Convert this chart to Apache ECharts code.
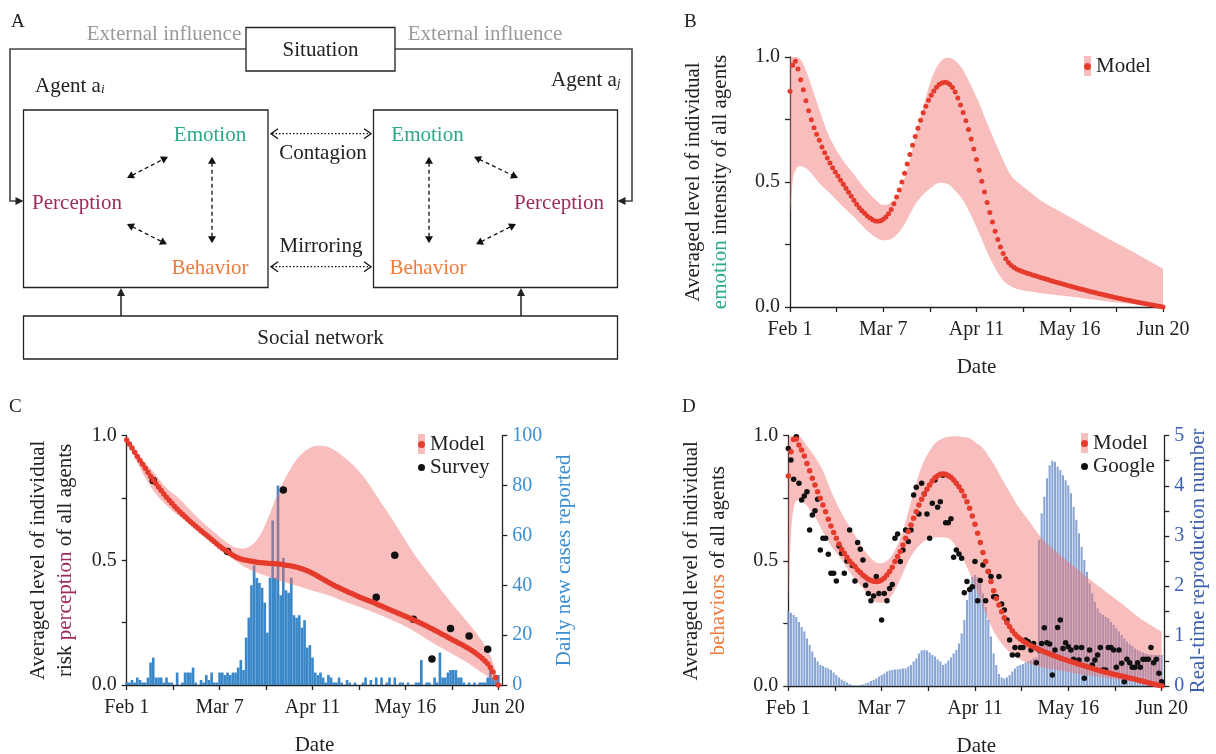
<!DOCTYPE html>
<html>
<head>
<meta charset="utf-8">
<script src="https://cdn.jsdelivr.net/npm/echarts@6/dist/echarts.min.js"></script>
<style>
  html, body { margin: 0; padding: 0; background: #fff; }
  #fig { width: 1216px; height: 754px; }
</style>
</head>
<body>
<div id="fig"></div>
<script>
// ---- data (day index 0 = Feb 1, 140 = Jun 20) ----
const dateLabels = ['Feb 1', 'Mar 7', 'Apr 11', 'May 16', 'Jun 20'];
const labelDays = [0, 35, 70, 105, 140];
const tickDays = [0, 17.5, 35, 52.5, 70, 87.5, 105, 122.5, 140];
const levelLabels = [0, 0.5, 1];

// B: emotion model, one value per day
const modelB = [
  0.863,0.967,0.983,0.952,0.909,0.869,0.825,0.785,0.749,0.717,
  0.691,0.667,0.640,0.617,0.596,0.576,0.557,0.540,0.524,0.507,
  0.491,0.475,0.459,0.443,0.427,0.411,0.397,0.385,0.375,0.364,
  0.356,0.349,0.344,0.343,0.345,0.351,0.360,0.373,0.390,0.413,
  0.440,0.468,0.500,0.535,0.572,0.610,0.647,0.682,0.715,0.747,
  0.777,0.803,0.827,0.847,0.864,0.879,0.890,0.896,0.899,0.897,
  0.890,0.878,0.860,0.836,0.808,0.778,0.745,0.710,0.672,0.632,
  0.590,0.547,0.503,0.460,0.418,0.378,0.340,0.303,0.270,0.240,
  0.214,0.193,0.178,0.167,0.159,0.152,0.147,0.143,0.139,0.135,
  0.132,0.128,0.125,0.122,0.118,0.115,0.112,0.109,0.105,0.102,
  0.099,0.096,0.093,0.090,0.087,0.084,0.081,0.078,0.075,0.072,
  0.070,0.067,0.064,0.061,0.059,0.056,0.053,0.051,0.048,0.046,
  0.043,0.041,0.038,0.036,0.034,0.031,0.029,0.027,0.025,0.022,
  0.020,0.018,0.016,0.014,0.012,0.010,0.008,0.006,0.004,0.002,
  0.000
];
const bandDaysB = [0,1,2,4,6,8,11,14,17,20,24,28,32,35,38,41,44,47,50,53,56,59,62,65,68,71,74,77,80,83,86,90,95,100,110,120,130,140];
const upperB = [1.0,1.0,1.0,0.99,0.945,0.885,0.79,0.70,0.635,0.585,0.53,0.475,0.43,0.408,0.418,0.455,0.55,0.675,0.80,0.91,0.975,0.998,0.985,0.947,0.885,0.815,0.735,0.66,0.587,0.525,0.495,0.46,0.42,0.39,0.33,0.27,0.213,0.153];
const lowerB = [0.36,0.50,0.545,0.563,0.555,0.535,0.495,0.465,0.433,0.40,0.36,0.315,0.28,0.267,0.272,0.30,0.35,0.41,0.45,0.478,0.496,0.493,0.465,0.427,0.365,0.295,0.22,0.155,0.107,0.082,0.07,0.062,0.054,0.048,0.035,0.021,0.011,0.0];

// C: risk perception model, survey, daily new cases
const modelC = [
  .983,.967,.951,.934,.917,.901,.885,.869,.853,.837,
  .822,.808,.794,.780,.766,.753,.741,.729,.717,.706,
  .695,.685,.675,.665,.655,.646,.637,.628,.619,.610,
  .602,.593,.584,.575,.566,.557,.549,.542,.535,.527,
  .520,.514,.509,.505,.502,.500,.498,.496,.494,.492,
  .491,.490,.489,.488,.487,.487,.486,.485,.484,.482,
  .480,.479,.477,.475,.472,.469,.466,.462,.458,.453,
  .448,.442,.436,.430,.424,.418,.412,.406,.400,.395,
  .390,.385,.380,.375,.370,.366,.361,.356,.351,.347,
  .343,.339,.335,.331,.326,.321,.317,.312,.307,.303,
  .298,.294,.289,.285,.280,.276,.271,.267,.262,.257,
  .252,.247,.242,.237,.231,.226,.220,.215,.209,.203,
  .198,.192,.186,.180,.174,.168,.163,.157,.151,.145,
  .138,.131,.123,.115,.106,.096,.085,.070,.052,.030,
  0
];
const bandDaysC = [0,5,10,15,20,25,30,35,40,43,45,48,51,54,57,60,64,68,72,76,80,85,90,95,100,105,110,115,120,125,129,133,136,138,140];
const upperC = [.983,.915,.855,.79,.745,.69,.64,.595,.556,.548,.55,.57,.615,.69,.77,.835,.905,.945,.96,.955,.93,.885,.825,.745,.665,.58,.50,.43,.36,.295,.245,.19,.14,.09,.01];
const lowerC = [.983,.87,.78,.72,.675,.635,.59,.545,.505,.483,.47,.455,.443,.432,.42,.41,.398,.385,.372,.36,.343,.323,.304,.283,.26,.235,.205,.17,.14,.11,.085,.055,.035,.018,0];
const surveyDays = [10, 38, 59, 94, 101, 108, 115, 122, 129, 136];
const surveyVals = [0.82, 0.535, 0.782, 0.352, 0.52, 0.264, 0.104, 0.227, 0.197, 0.143];
const newCases = [
  1,1,2,1,3,2,1,1,3,9,
  11,3,3,3,1,3,1,1,0,5,
  0,1,5,5,5,7,1,0,2,1,
  4,2,5,1,1,5,5,4,5,4,
  5,5,7,10,6,19,27,40,48,43,
  41,39,33,21,43,66,43,80,36,51,
  38,37,43,28,27,28,23,26,15,16,
  11,5,4,5,3,1,4,3,1,1,
  3,1,0,2,1,0,1,0,0,1,
  3,0,2,0,3,0,3,0,1,3,
  0,3,0,1,1,0,1,0,0,1,
  1,10,0,1,1,0,3,1,13,3,
  3,5,6,6,6,3,3,1,0,1,
  0,1,0,1,1,1,3,8,3,4,
  4
];

// D: behaviour model, Google mobility, real-time reproduction number
const modelD = [
  .839,.936,.985,.987,.963,.943,.919,.889,.860,.830,
  .803,.776,.750,.723,.696,.666,.639,.613,.590,.567,
  .546,.530,.514,.499,.487,.477,.463,.453,.442,.434,
  .426,.421,.418,.417,.418,.423,.431,.443,.457,.474,
  .497,.517,.537,.563,.590,.617,.643,.670,.696,.723,
  .746,.767,.786,.803,.819,.832,.840,.846,.847,.846,
  .840,.834,.823,.810,.796,.780,.759,.736,.710,.679,
  .646,.610,.573,.533,.497,.457,.417,.381,.350,.324,
  .297,.273,.253,.237,.221,.208,.197,.188,.180,.173,
  .166,.161,.156,.151,.146,.141,.137,.133,.128,.124,
  .120,.116,.112,.108,.105,.101,.098,.094,.091,.087,
  .084,.081,.077,.074,.071,.067,.064,.061,.058,.055,
  .053,.050,.047,.045,.042,.040,.037,.035,.032,.030,
  .027,.024,.021,.019,.016,.013,.010,.008,.005,.003,
  0
];
const bandDaysD = [0,1,2,4,5,7,10,13,16,20,24,28,32,34,36,38,40,43,46,50,55,58,60,63,65,68,70,73,75,78,80,83,86,90,95,100,107,115,120,125,132,140];
const upperD = [.99,1.0,1.0,1.0,.99,.96,.916,.86,.78,.69,.62,.55,.50,.49,.493,.51,.543,.62,.735,.876,.969,.99,.996,.998,.996,.99,.975,.95,.92,.87,.83,.775,.72,.663,.59,.54,.477,.41,.37,.33,.27,.217];
const lowerD = [.32,.60,.71,.743,.74,.72,.675,.615,.56,.503,.44,.39,.342,.333,.335,.35,.383,.45,.518,.57,.594,.593,.59,.555,.517,.45,.397,.32,.264,.2,.17,.135,.112,.091,.075,.066,.052,.039,.031,.024,.015,0];
const google = [
  .949,.903,.826,.996,.810,.743,.759,.776,.623,.683,
  .700,.746,.543,.590,.590,.526,.450,.450,.419,.559,
  .530,.450,.499,.623,.481,.419,.573,.546,.503,.403,
  .370,.341,.360,.437,.370,.264,.370,.341,.390,.406,
  .590,.607,.497,.543,.623,.577,.623,.763,.794,.687,
  .810,.767,.687,.590,.730,.823,.714,.736,.842,.652,
  .652,.668,.514,.543,.527,.510,.373,.417,.386,.397,
  .497,.341,.421,.483,.341,.457,.437,.357,.357,.437,
  .328,.304,.264,.184,.124,.154,.124,.154,.154,.184,
  .177,.144,.170,.093,.144,.170,.233,.173,.168,.044,
  .144,.234,.264,.150,.173,.157,.144,.107,.154,.104,
  .154,.031,.107,.144,.084,.104,.124,.154,.064,.064,
  .154,.154,.144,.075,.144,.091,.017,.107,.093,.075,
  .075,.093,.075,.107,.107,.107,.154,.093,.107,.051,
  .017
];
const rt = [
  1.5,1.46,1.42,1.38,1.28,1.18,1.09,0.95,0.82,0.69,
  0.57,0.49,0.42,0.40,0.37,0.35,0.32,0.27,0.22,0.17,
  0.13,0.10,0.07,0.04,0.02,0.01,0.01,0.02,0.03,0.05,
  0.07,0.10,0.12,0.15,0.19,0.22,0.25,0.29,0.31,0.32,
  0.33,0.33,0.34,0.35,0.35,0.39,0.42,0.49,0.55,0.65,
  0.71,0.72,0.71,0.67,0.62,0.59,0.53,0.49,0.42,0.45,
  0.51,0.57,0.65,0.72,0.85,1.05,1.32,1.72,1.98,2.18,
  2.22,2.18,2.05,1.85,1.58,1.32,0.99,0.65,0.42,0.24,
  0.17,0.15,0.17,0.22,0.29,0.35,0.40,0.42,0.44,0.47,
  0.49,0.52,0.55,0.57,2.92,3.45,3.78,4.15,4.41,4.50,
  4.48,4.38,4.31,4.21,4.11,4.01,3.85,3.58,3.32,3.05,
  2.78,2.52,2.28,2.05,1.85,1.68,1.55,1.46,1.42,1.38,
  1.35,1.28,1.22,1.15,1.09,1.02,0.95,0.89,0.84,0.80,
  0.75,0.72,0.69,0.67,0.65,0.63,0.62,0.62,0.62,0.62,
  0.62
];

// ---- styles ----
const FONT = '"Liberation Serif", "Times New Roman", serif';
const INK = '#222';
const RED = '#e53b2c';
const BAND = 'rgba(240,110,108,0.45)';
const BAND_KEY = '#f8bebd';
const TEAL = '#2ba88a';
const MAROON = '#9c2b5d';
const ORANGE = '#f07a3a';
const BLUE_C = '#3a88c8';
const BLUE_D = '#3d5fae';

const daily = ys => ys.map((y, i) => [i, y]);
const pairs = (xs, ys) => xs.map((x, i) => [x, ys[i]]);

// monotone cubic segments through pixel points (x increasing)
function monoSegments(p) {
  const n = p.length, s = [], m = [];
  for (let i = 0; i < n - 1; i++) s[i] = (p[i + 1][1] - p[i][1]) / (p[i + 1][0] - p[i][0]);
  m[0] = s[0]; m[n - 1] = s[n - 2];
  for (let i = 1; i < n - 1; i++) m[i] = s[i - 1] * s[i] <= 0 ? 0 : (s[i - 1] + s[i]) / 2;
  for (let i = 0; i < n - 1; i++) {
    if (s[i] === 0) { m[i] = 0; m[i + 1] = 0; continue; }
    const a = m[i] / s[i], b = m[i + 1] / s[i], h = a * a + b * b;
    if (h > 9) { const t = 3 / Math.sqrt(h); m[i] = t * a * s[i]; m[i + 1] = t * b * s[i]; }
  }
  const seg = [];
  for (let i = 0; i < n - 1; i++) {
    const dx = (p[i + 1][0] - p[i][0]) / 3;
    seg.push([p[i], [p[i][0] + dx, p[i][1] + m[i] * dx], [p[i + 1][0] - dx, p[i + 1][1] - m[i + 1] * dx], p[i + 1]]);
  }
  return seg;
}
function bandPath(up, lo) {
  const f = q => q[0].toFixed(2) + ' ' + q[1].toFixed(2);
  let d = 'M' + f(up[0]);
  monoSegments(up).forEach(s => { d += 'C' + f(s[1]) + ' ' + f(s[2]) + ' ' + f(s[3]); });
  d += 'L' + f(lo[lo.length - 1]);
  monoSegments(lo).reverse().forEach(s => { d += 'C' + f(s[2]) + ' ' + f(s[1]) + ' ' + f(s[0]); });
  return d + 'Z';
}

function bandSeries(xi, yi, days, upper, lower) {
  return {
    type: 'custom', xAxisIndex: xi, yAxisIndex: yi, data: [[0, 0]], z: 2, silent: true,
    renderItem: (params, api) => {
      const up = days.map((d, i) => api.coord([d, upper[i]]));
      const lo = days.map((d, i) => api.coord([d, lower[i]]));
      return { type: 'path', shape: { pathData: bandPath(up, lo) }, style: { fill: BAND } };
    }
  };
}

function dateAxis(gridIndex, max) {
  return {
    type: 'value', gridIndex, min: 0, max, interval: 17.5,
    name: 'Date', nameLocation: 'middle', nameGap: 50,
    nameTextStyle: { fontSize: 21, color: INK, fontFamily: FONT },
    axisLine: { lineStyle: { color: INK, width: 1.3 } },
    axisTick: { show: true, length: 5, customValues: tickDays, lineStyle: { color: INK, width: 1.3 } },
    axisLabel: {
      customValues: labelDays, fontSize: 20, color: INK, fontFamily: FONT, margin: 13,
      formatter: v => { const k = labelDays.indexOf(v); return k >= 0 ? dateLabels[k] : ''; }
    },
    splitLine: { show: false }
  };
}

function levelAxis(gridIndex, name, hlColor, gap) {
  return {
    type: 'value', gridIndex, min: 0, max: 1, interval: 0.25, position: 'left',
    name, nameLocation: 'middle', nameRotate: 90, nameGap: gap,
    nameTextStyle: {
      fontSize: 21, color: INK, fontFamily: FONT, lineHeight: 27,
      rich: { hl: { color: hlColor, fontSize: 21, fontFamily: FONT, lineHeight: 27 } }
    },
    axisLine: { show: true, lineStyle: { color: INK, width: 1.3 } },
    axisTick: { show: true, length: 5, lineStyle: { color: INK, width: 1.3 } },
    axisLabel: { customValues: levelLabels, formatter: v => v.toFixed(1), fontSize: 20, color: INK, fontFamily: FONT, margin: 10 },
    splitLine: { show: false }
  };
}

function rightAxis(gridIndex, max, interval, labels, name, color, gap) {
  return {
    type: 'value', gridIndex, min: 0, max, interval, position: 'right',
    name, nameLocation: 'middle', nameRotate: 90, nameGap: gap,
    nameTextStyle: { fontSize: 21, color, fontFamily: FONT },
    axisLine: { show: true, lineStyle: { color: INK, width: 1.3 } },
    axisTick: { show: true, length: 5, lineStyle: { color: INK, width: 1.3 } },
    axisLabel: { customValues: labels, fontSize: 20, color, fontFamily: FONT, margin: 10 },
    splitLine: { show: false }
  };
}

function dots(name, xi, yi, data, size, color, z) {
  return { type: 'scatter', name, xAxisIndex: xi, yAxisIndex: yi, data, symbol: 'circle',
           symbolSize: size, itemStyle: { color, opacity: 1 }, z, silent: true };
}

// ---- panel A diagram helpers ----
function txt(x, y, text, color, size, align) {
  return { type: 'text', x, y, style: { text, fill: color, fontSize: size || 21, fontFamily: FONT,
    align: align || 'center', verticalAlign: 'middle', textAlign: align || 'center', textVerticalAlign: 'middle' } };
}
function box(x, y, w, h) {
  return { type: 'rect', shape: { x, y, width: w, height: h }, style: { fill: '#fff', stroke: INK, lineWidth: 1.3 } };
}
function head(x, y, ang, len, hw, open, color) {
  const bx = x - len * Math.cos(ang), by = y - len * Math.sin(ang);
  const p1 = [bx + hw * Math.sin(ang), by - hw * Math.cos(ang)];
  const p2 = [bx - hw * Math.sin(ang), by + hw * Math.cos(ang)];
  if (open) return { type: 'polyline', shape: { points: [p1, [x, y], p2] }, style: { stroke: color, fill: null, lineWidth: 1.3 } };
  return { type: 'polygon', shape: { points: [[x, y], p1, p2] }, style: { fill: color } };
}
function dArrow(x1, y1, x2, y2, dash, open) {
  const a = Math.atan2(y2 - y1, x2 - x1);
  const s = open ? 1 : 6;
  return [
    { type: 'line', shape: { x1: x1 + s * Math.cos(a), y1: y1 + s * Math.sin(a), x2: x2 - s * Math.cos(a), y2: y2 - s * Math.sin(a) },
      style: { stroke: '#111', lineWidth: 1.3, lineDash: dash } },
    head(x2, y2, a, 7, open ? 5 : 4, open, '#111'),
    head(x1, y1, a + Math.PI, 7, open ? 5 : 4, open, '#111')
  ];
}
function keyRect(x, y) {
  return { type: 'rect', shape: { x, y, width: 7, height: 20 }, style: { fill: BAND_KEY }, z: 0 };
}

const diagram = [
  txt(11, 22, 'A', INK, 19, 'left'),
  { type: 'polyline', shape: { points: [[246, 49], [10, 49], [10, 201], [17, 201]] }, style: { stroke: '#444', lineWidth: 1.6, fill: null } },
  head(23.5, 201, 0, 8, 4, false, '#222'),
  { type: 'polyline', shape: { points: [[395, 49], [632, 49], [632, 201], [625, 201]] }, style: { stroke: '#444', lineWidth: 1.6, fill: null } },
  head(617.5, 201, Math.PI, 8, 4, false, '#222'),
  txt(164, 34, 'External influence', '#9a9a9a'),
  txt(485, 34, 'External influence', '#9a9a9a'),
  box(246, 27.5, 149, 43.5),
  txt(320.5, 50, 'Situation', INK),
  txt(35, 86, 'Agent a', INK, 21, 'left'),
  { type: 'text', x: 101, y: 90, style: { text: 'i', fill: INK, fontSize: 13, fontStyle: 'italic', fontFamily: FONT, align: 'left', verticalAlign: 'middle' } },
  txt(551, 80, 'Agent a', INK, 21, 'left'),
  { type: 'text', x: 617, y: 84, style: { text: 'j', fill: INK, fontSize: 13, fontStyle: 'italic', fontFamily: FONT, align: 'left', verticalAlign: 'middle' } },
  box(23.5, 110, 244.5, 177.5),
  box(373.5, 110, 244, 177.5),
  box(23.5, 316, 594, 43),
  txt(320.5, 338, 'Social network', INK),
  { type: 'line', shape: { x1: 121, y1: 316, x2: 121, y2: 295 }, style: { stroke: '#222', lineWidth: 1.5 } },
  head(121, 288, -Math.PI / 2, 8, 4, false, '#222'),
  { type: 'line', shape: { x1: 521, y1: 316, x2: 521, y2: 295 }, style: { stroke: '#222', lineWidth: 1.5 } },
  head(521, 288, -Math.PI / 2, 8, 4, false, '#222'),
  ...dArrow(271, 133.7, 371, 133.7, [1.5, 2], true),
  ...dArrow(271, 266.7, 371, 266.7, [1.5, 2], true),
  txt(323, 153, 'Contagion', INK),
  txt(321, 246, 'Mirroring', INK),
  txt(210, 135, 'Emotion', TEAL),
  txt(77, 203, 'Perception', MAROON),
  txt(210, 268, 'Behavior', ORANGE),
  txt(427.5, 135, 'Emotion', TEAL),
  txt(559, 203, 'Perception', MAROON),
  txt(428, 268, 'Behavior', ORANGE),
  ...dArrow(127, 178, 168, 156.7, [4, 3], false),
  ...dArrow(212, 156.7, 212, 243.3, [4, 3], false),
  ...dArrow(127, 224, 167, 244.3, [4, 3], false),
  ...dArrow(429, 156.7, 429, 243.3, [4, 3], false),
  ...dArrow(474, 156.7, 518, 178, [4, 3], false),
  ...dArrow(476, 244.3, 516, 224, [4, 3], false),
  txt(684, 22, 'B', INK, 19, 'left'),
  txt(9, 407, 'C', INK, 19, 'left'),
  txt(682, 407, 'D', INK, 19, 'left'),
  // pink key swatches behind the legend "Model" dots
  keyRect(1084, 56),
  keyRect(418, 434),
  keyRect(1081, 433)
];

const legendText = { fontSize: 21, color: INK, fontFamily: FONT };
const legendBase = { orient: 'vertical', itemWidth: 7, itemHeight: 20, itemGap: 2, selectedMode: false,
                     textStyle: legendText, padding: 0, icon: 'circle' };
const chart = echarts.init(document.getElementById('fig'), null, { renderer: 'canvas' });

const option = {
  animation: false,
  backgroundColor: '#fff',
  textStyle: { fontFamily: FONT },
  grid: [
    { left: 790, top: 57, width: 373, height: 250, outerBoundsMode: 'none' },
    { left: 126.7, top: 435.7, width: 375.6, height: 249.3, outerBoundsMode: 'none' },
    { left: 788.3, top: 435.7, width: 376, height: 250.3, outerBoundsMode: 'none' }
  ],
  xAxis: [dateAxis(0, 140), dateAxis(1, 141.5), dateAxis(2, 141)],
  yAxis: [
    levelAxis(0, 'Averaged level of individual\n{hl|emotion} intensity of all agents', TEAL, 56),
    levelAxis(1, 'Averaged level of individual\nrisk {hl|perception} of all agents', MAROON, 48),
    rightAxis(1, 100, 20, [0, 20, 40, 60, 80, 100], 'Daily new cases reported', '#3d8fd0', 52),
    levelAxis(2, 'Averaged level of individual\n{hl|behaviors} of all agents', ORANGE, 56),
    rightAxis(2, 5, 0.5, [0, 1, 2, 3, 4, 5], 'Real-time reproduction number', BLUE_D, 22)
  ],
  legend: [
    Object.assign({}, legendBase, { data: ['Model'], left: 1084, top: 56 }),
    Object.assign({}, legendBase, { data: ['Model', 'Survey'], left: 418, top: 434 }),
    Object.assign({}, legendBase, { data: ['Model', 'Google'], left: 1081, top: 433 })
  ],
  graphic: diagram,
  series: [
    // B
    bandSeries(0, 0, bandDaysB, upperB, lowerB),
    dots('Model', 0, 0, daily(modelB), 5, RED, 5),
    // C
    { type: 'bar', name: 'cases', xAxisIndex: 1, yAxisIndex: 2, data: daily(newCases), barWidth: 2.65,
      itemStyle: { color: BLUE_C }, z: 1, silent: true },
    bandSeries(1, 1, bandDaysC, upperC, lowerC),
    dots('Survey', 1, 1, pairs(surveyDays, surveyVals), 7.5, '#111', 3),
    dots('Model', 1, 1, daily(modelC), 5.5, RED, 5),
    // D
    { type: 'bar', name: 'Rt', xAxisIndex: 2, yAxisIndex: 4, data: daily(rt), barWidth: 2.1,
      itemStyle: { color: 'rgba(118,150,208,0.85)' }, z: 1, silent: true },
    bandSeries(2, 3, bandDaysD, upperD, lowerD),
    dots('Google', 2, 3, daily(google), 5.5, '#111', 3),
    dots('Model', 2, 3, daily(modelD), 5.5, RED, 5)
  ]
};

chart.setOption(option);
</script>
</body>
</html>
